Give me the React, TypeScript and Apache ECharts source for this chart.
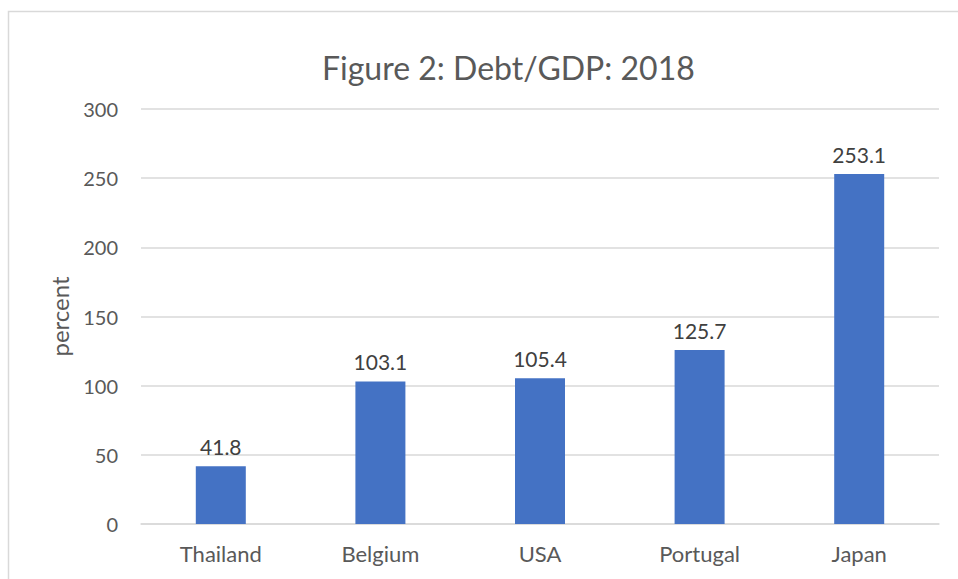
import React, { useEffect, useRef } from "react";
import * as echarts from "echarts";

const categories = ["Thailand", "Belgium", "USA", "Portugal", "Japan"];
const debtToGdp = [41.8, 103.1, 105.4, 125.7, 253.1];
const yMin = 0;
const yMax = 300;
const yInterval = 50;

export default function App() {
  const ref = useRef<HTMLDivElement>(null);
  useEffect(() => {
    if (!ref.current) return;
    const chart = echarts.init(ref.current, null, { renderer: "svg" });
    const font = "Lato, 'Open Sans', sans-serif";
    chart.setOption({
      animation: false,
      backgroundColor: "#ffffff",
      title: {
        text: "Figure 2: Debt/GDP: 2018",
        left: 317,
        top: 46,
        textStyle: { fontFamily: font, fontSize: 32, fontWeight: "normal", color: "#595959" },
      },
      graphic: [
        {
          type: "rect",
          shape: { x: 8.5, y: 11.5, width: 1000, height: 700 },
          style: { fill: "none", stroke: "#d9d9d9", lineWidth: 1.5 },
          silent: true,
        },
      ],
      grid: { left: 141, right: 19, top: 109, bottom: 55 },
      xAxis: {
        type: "category",
        data: categories,
        axisLine: { lineStyle: { color: "#d9d9d9", width: 1.5 } },
        axisTick: { show: false },
        axisLabel: { fontFamily: font, fontSize: 22, color: "#595959", margin: 18 },
      },
      yAxis: {
        type: "value",
        min: yMin,
        max: yMax,
        interval: yInterval,
        name: "percent",
        nameLocation: "middle",
        nameRotate: 90,
        nameGap: 70,
        nameTextStyle: { fontFamily: font, fontSize: 24, color: "#595959" },
        axisLine: { show: false },
        axisTick: { show: false },
        axisLabel: { fontFamily: font, fontSize: 20, color: "#595959", margin: 23 },
        splitLine: { lineStyle: { color: "#d9d9d9", width: 1.5 } },
      },
      series: [
        {
          type: "bar",
          data: debtToGdp,
          barWidth: 50,
          itemStyle: { color: "#4472C4" },
          label: {
            show: true,
            position: "top",
            distance: 9,
            fontFamily: font,
            fontSize: 21,
            color: "#404040",
            formatter: (p: any) => p.value.toFixed(1),
          },
        },
      ],
    });
    return () => chart.dispose();
  }, []);
  return (
    <div
      ref={ref}
      style={{ position: "absolute", left: 0, top: 0, width: 958, height: 579 }}
    />
  );
}
